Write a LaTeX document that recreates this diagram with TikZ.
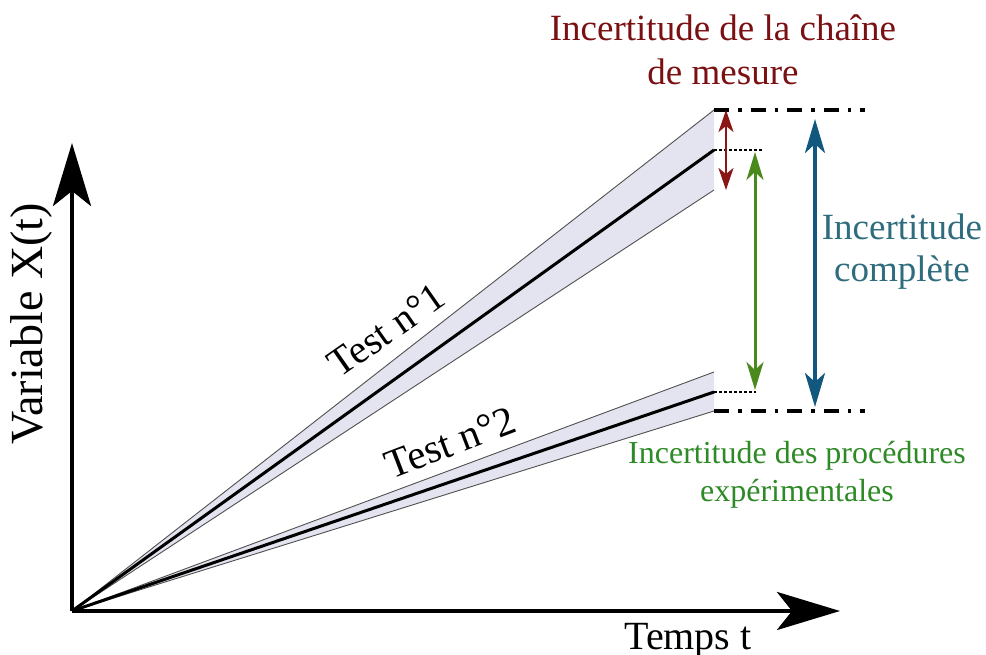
\documentclass[tikz,border=0pt]{standalone}
\usepackage{fontspec}
\setmainfont{Liberation Serif}
\usetikzlibrary{arrows.meta}
\definecolor{wedgefill}{HTML}{E4E4F0}
\definecolor{edgegray}{HTML}{505050}
\definecolor{redtxt}{HTML}{7A1012}
\definecolor{redarr}{HTML}{8A1616}
\definecolor{greentxt}{HTML}{2E8A26}
\definecolor{greenarr}{HTML}{4A8A1C}
\definecolor{bluetxt}{HTML}{2E6C7E}
\definecolor{bluearr}{HTML}{12587E}
\begin{document}
\begin{tikzpicture}[x=1pt,y=-1pt,
  axisline/.style={line width=4pt,-{Stealth[length=63pt,width=38pt,inset=15pt]}},
  wedgeedge/.style={draw=edgegray,line width=0.9pt},
  curveline/.style={line width=3pt,black},
  dashdotline/.style={line width=3.3pt,dash pattern=on 15pt off 9pt on 3.5pt off 9pt},
  dotline/.style={line width=1.5pt,dash pattern=on 3pt off 2pt},
  redarrow/.style={redarr,line width=2.5pt,{Stealth[length=22pt,width=15pt,inset=6pt]}-{Stealth[length=22pt,width=15pt,inset=6pt]}},
  greenarrow/.style={greenarr,line width=3pt,{Stealth[length=28pt,width=17pt,inset=8pt]}-{Stealth[length=28pt,width=17pt,inset=8pt]}},
  bluearrow/.style={bluearr,line width=4pt,{Stealth[length=34pt,width=20pt,inset=9pt]}-{Stealth[length=34pt,width=20pt,inset=9pt]}},
  txt/.style={inner sep=0pt,align=center,anchor=base},
]
\useasboundingbox (0,0) rectangle (986,655);
% key points
\coordinate (O) at (72,611);
\coordinate (Ytip) at (72,143);
\coordinate (Xtip) at (840,611);
\coordinate (A1u) at (714,110);
\coordinate (A1c) at (714,150);
\coordinate (A1l) at (714,190);
\coordinate (A2u) at (714,372);
\coordinate (A2c) at (714,392);
\coordinate (A2l) at (714,411);
\coordinate (T1) at (865,110);
\coordinate (T2) at (865,411);
\coordinate (D1) at (763,150);
\coordinate (D2) at (756,392);
\coordinate (R1) at (726,110);
\coordinate (R2) at (726,190);
\coordinate (G1) at (755,152);
\coordinate (G2) at (755,390);
\coordinate (B1) at (815,119);
\coordinate (B2) at (815,407);
% wedges
\fill[wedgefill] (O) -- (A1u) -- (A1l) -- cycle;
\fill[wedgefill] (O) -- (A2u) -- (A2l) -- cycle;
\draw[wedgeedge] (O) -- (A1u);
\draw[wedgeedge] (O) -- (A1l);
\draw[wedgeedge] (O) -- (A2u);
\draw[wedgeedge] (O) -- (A2l);
\draw[curveline] (O) -- (A1c);
\draw[curveline] (O) -- (A2c);
% axes
\draw[axisline] (O) -- (Ytip);
\draw[axisline] (O) -- (Xtip);
% reference lines
\draw[dashdotline] (A1u) -- (T1);
\draw[dashdotline] (A2l) -- (T2);
\draw[dotline] (A1c) -- (D1);
\draw[dotline] (A2c) -- (D2);
% uncertainty arrows
\draw[redarrow] (R1) -- (R2);
\draw[greenarrow] (G1) -- (G2);
\draw[bluearrow] (B1) -- (B2);
% labels (base anchor = baseline of last line)
\node[txt,redtxt,font=\fontsize{37}{44}\selectfont] (lred) at (723,85) {Incertitude de la chaîne\\de mesure};
\node[txt,bluetxt,font=\fontsize{37}{43}\selectfont] (lblue) at (902,282) {Incertitude\\complète};
\node[txt,greentxt,font=\fontsize{32}{38}\selectfont] (lgreen) at (797,501) {Incertitude des procédures\\expérimentales};
\node[txt,font=\fontsize{40}{48}\selectfont] (ltemps) at (688,649) {Temps t};
\node[txt,rotate=90,font=\fontsize{46}{52}\selectfont] (lvar) at (42,324) {Variable X(t)};
\node[txt,rotate=35,font=\fontsize{40}{48}\selectfont] (lt1) at (394,341) {Test n°1};
\node[txt,rotate=21,font=\fontsize{41}{48}\selectfont] (lt2) at (455,455) {Test n°2};
\end{tikzpicture}
\end{document}
